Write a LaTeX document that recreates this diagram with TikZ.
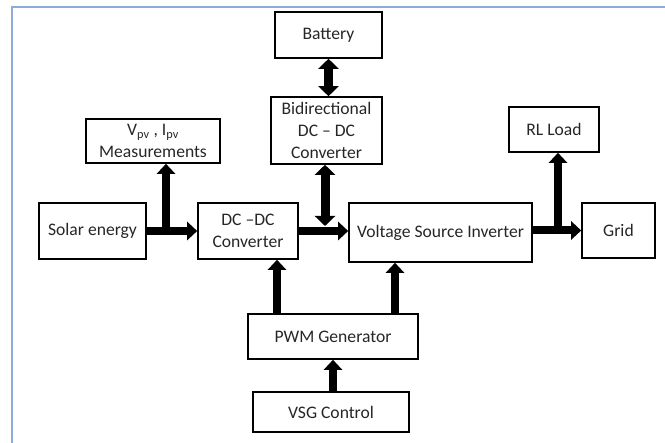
\documentclass[tikz,border=0pt]{standalone}
\usepackage{fontspec}
\setmainfont{Carlito}
\usepackage{xcolor}
\usepackage{tikz}
\usetikzlibrary{positioning, arrows.meta, calc}

\definecolor{frameblue}{HTML}{8FAADC}

\begin{document}
\begin{tikzpicture}[
  x=1pt, y=-1pt,
  block/.style={
    rectangle, draw, line width=1.6pt, align=center, inner sep=0pt,
    text=black!85, font=\fontsize{17.6}{22}\selectfont
  },
  arrow/.style={-{Triangle[length=10pt, width=18pt]}, line width=8pt},
  dblarrow/.style={{Triangle[length=10pt, width=20pt]}-{Triangle[length=10pt, width=20pt]}, line width=9pt}
]
\useasboundingbox (0,0) rectangle (665,443);

% frame (only top and left edges visible)
\draw[frameblue, line width=2pt] (11.7,443) -- (11.7,7.5) -- (665,7.5);

% ==================== NODES ====================
% Storage path
\node[block, minimum width=107pt, minimum height=46pt] (battery) at (328.5, 35) {Battery};
\node[block, minimum width=111pt, minimum height=67pt] (bidir) at (326.5, 130.5) {Bidirectional\\DC -- DC\\Converter};

% Measurement and load
\node[block, minimum width=134pt, minimum height=44pt] (meas) at (153, 141) {V\textsubscript{pv} , I\textsubscript{pv}\\Measurements};
\node[block, minimum width=90pt, minimum height=45pt] (rl_load) at (554, 129.5) {RL Load};

% Main power chain
\node[block, minimum width=107pt, minimum height=56pt] (solar) at (92.5, 231) {Solar energy};
\node[block, minimum width=100pt, minimum height=56pt] (dcdc) at (248, 231) {DC --DC\\Converter};
\node[block, minimum width=183pt, minimum height=59pt] (vsi) at (440.5, 232.5) {Voltage Source Inverter};
\node[block, minimum width=73pt, minimum height=55pt] (grid) at (618.5, 230.5) {Grid};

% Control
\node[block, minimum width=170pt, minimum height=45pt] (pwm) at (333, 336.5) {PWM Generator};
\node[block, minimum width=156pt, minimum height=40pt] (vsg) at (331, 412) {VSG Control};

% tap points on the power lines
\coordinate (tap_meas) at (166, 231);
\coordinate (tap_bat) at (325, 226);
\coordinate (tap_load) at (558, 231);

% ==================== CONNECTIONS ====================
% Power flow
\draw[arrow] (solar.east) -- (dcdc.west);
\draw[arrow] (dcdc.east) -- (dcdc.east -| vsi.west);
\draw[arrow] (vsi.east |- grid.west) -- (grid.west);

% Measurement and load taps
\draw[arrow] (tap_meas) -- (tap_meas |- meas.south);
\draw[arrow] (tap_load) -- (tap_load |- rl_load.south);

% Battery exchange
\draw[dblarrow] (battery.south) -- (battery.south |- bidir.north);
\draw[dblarrow] (tap_bat |- bidir.south) -- (tap_bat);

% Control signals
\draw[arrow] ([xshift=-56pt]pwm.north) -- ([xshift=-56pt]pwm.north |- dcdc.south);
\draw[arrow] ([xshift=62pt]pwm.north) -- ([xshift=62pt]pwm.north |- vsi.south);
\draw[arrow] (vsg.north -| pwm.north) -- (pwm.south);
\end{tikzpicture}
\end{document}
